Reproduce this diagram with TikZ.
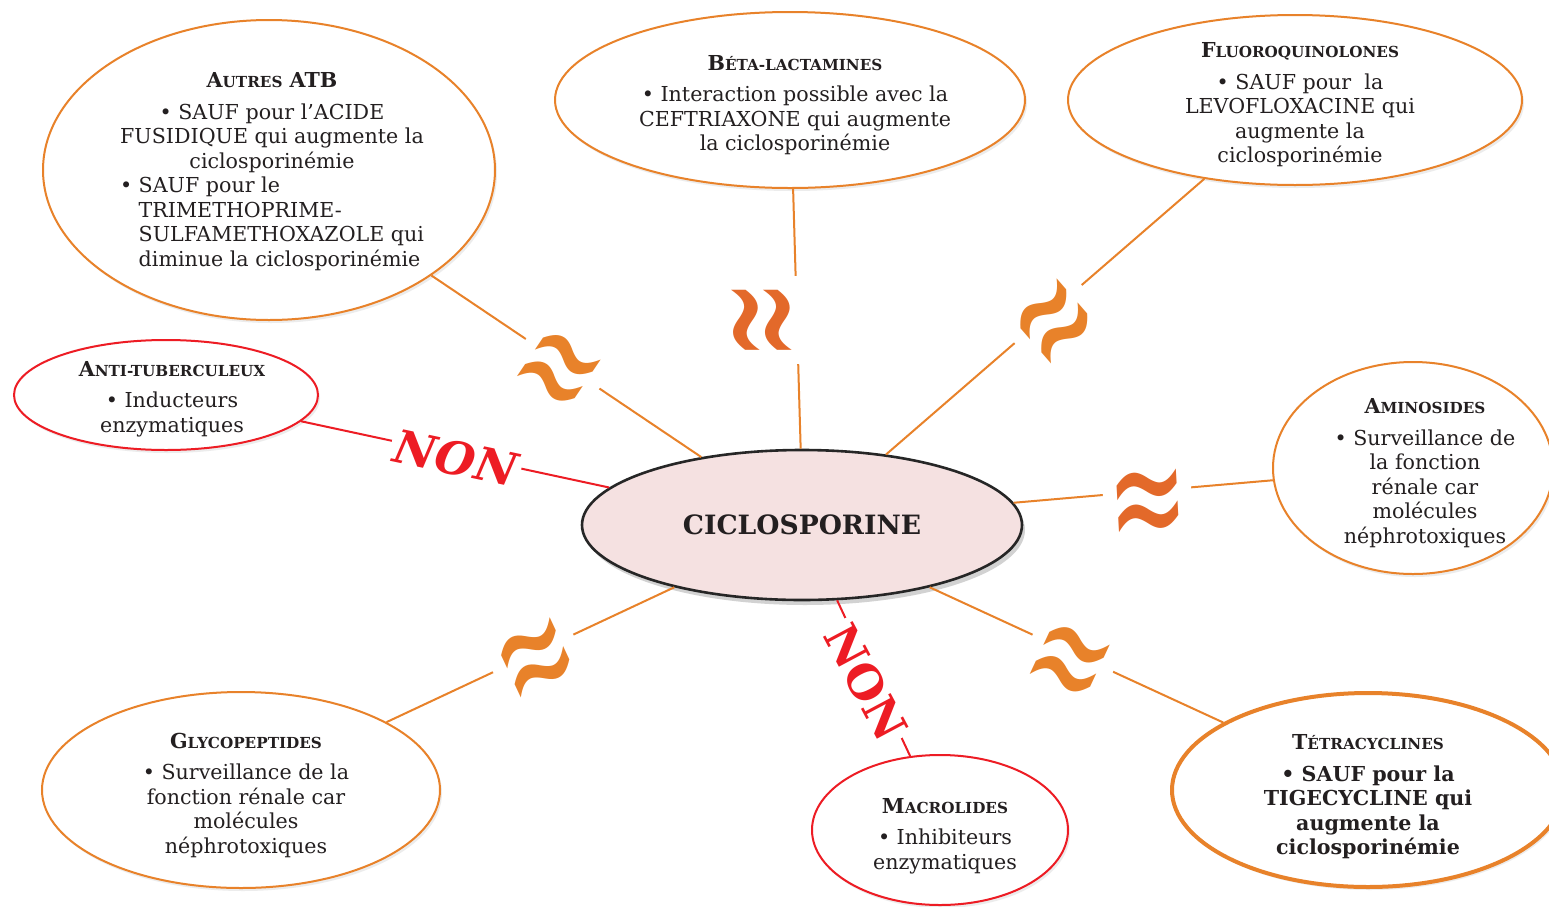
\documentclass[tikz,border=0pt]{standalone}
\usepackage{fontspec}
\setmainfont{DejaVu Serif}
\newfontfamily\symfont{DejaVu Sans}
\usetikzlibrary{shapes.geometric,shadows}
\definecolor{orgline}{HTML}{E8822A}
\definecolor{orgdark}{HTML}{E3692A}
\definecolor{redline}{HTML}{ED1C24}
\definecolor{pinkfill}{HTML}{F5E1E1}
\definecolor{txt}{HTML}{231F20}
\newcommand\smc[1]{{\fontsize{7.6}{9}\selectfont #1}}
\begin{document}
\begin{tikzpicture}[x=0.5pt,y=-0.5pt,
  bub/.style={ellipse, draw=orgline, line width=1pt, fill=white, inner sep=0pt,
    drop shadow={shadow xshift=1pt,shadow yshift=-1.5pt,opacity=0.15}},
  redbub/.style={bub, draw=redline},
  txtbox/.style={align=center, text=txt, font=\fontsize{10.3}{12.25}\selectfont, inner sep=0pt},
  link/.style={draw=orgline, line width=1pt},
  redlink/.style={draw=redline, line width=1pt},
  approx/.style={fill=white, text=orgline, font=\symfont\fontsize{48}{48}\selectfont, inner sep=2pt, yscale=1.75},
  non/.style={fill=white, text=redline, font=\bfseries\fontsize{23}{23}\selectfont, inner sep=2pt}
]
\useasboundingbox (0,0) rectangle (1549,906);
\fill[white] (0,0) rectangle (1549,906);

% bubbles
\node[bub, minimum width=226pt, minimum height=150pt] (atb) at (269,170) {};
\node[bub, minimum width=235pt, minimum height=88pt] (beta) at (790,100) {};
\node[bub, minimum width=227pt, minimum height=85pt] (fluo) at (1295,100) {};
\node[redbub, minimum width=152pt, minimum height=55pt] (anti) at (166,395) {};
\node[bub, minimum width=140pt, minimum height=106pt] (amino) at (1413,468) {};
\node[bub, minimum width=199pt, minimum height=98pt] (glyco) at (241,790) {};
\node[redbub, minimum width=128pt, minimum height=75pt] (macro) at (940,830) {};
\node[bub, line width=2pt, minimum width=196pt, minimum height=97pt] (tetra) at (1368,790) {};
\node[ellipse, draw=black!85, line width=1.3pt, fill=pinkfill, inner sep=0pt,
  minimum width=220pt, minimum height=75pt,
  drop shadow={shadow xshift=1.5pt,shadow yshift=-2.5pt,opacity=0.35}] (cic) at (802,525) {};

% connectors
\draw[link] (atb.-33) -- (cic.146);
\draw[link] (beta.-88) -- (cic.91);
\draw[link] (fluo.-139) -- (cic.40);
\draw[redlink] (anti.-11) -- (cic.169);
\draw[link] (amino.185) -- (cic.6);
\draw[link] (glyco.25) -- (cic.206);
\draw[redlink] (macro.112) -- (cic.-65);
\draw[link] (tetra.155) -- (cic.-26);

% symbols on connectors
\node[rotate=-34, approx] (s1) at (553,378) {≈};
\node[rotate=90, approx, text=orgdark] (s2) at (773,320) {≈};
\node[rotate=41, approx] (s3) at (1062,330) {≈};
\node[rotate=3, approx, text=orgdark] (s4) at (1148,512) {≈};
\node[rotate=25, approx] (s5) at (540,668) {≈};
\node[rotate=-25, approx] (s6) at (1065,670) {≈};
\node[non, font=\bfseries\itshape\fontsize{23}{23}\selectfont, rotate=-12] (non1) at (456,458) {NON};
\node[non, rotate=-62] (non2) at (866,682) {NON};

% texts
\node[txtbox] (atbt) at (272,173) {{\bfseries A\smc{UTRES} ATB}\\[3.5pt]
  \textbullet\ SAUF pour l'ACIDE\\
  FUSIDIQUE qui augmente la\\
  ciclosporinémie\\
  \begin{tabular}[t]{@{}l@{\ }l@{}}\textbullet & SAUF pour le\\
  & TRIMETHOPRIME-\\
  & SULFAMETHOXAZOLE qui\\
  & diminue la ciclosporinémie\end{tabular}};
\node[txtbox] (betat) at (795,105) {{\bfseries B\smc{ÉTA-LACTAMINES}}\\[3.5pt]
  \textbullet\ Interaction possible avec la\\
  CEFTRIAXONE qui augmente\\
  la ciclosporinémie};
\node[txtbox] (fluot) at (1300,105) {{\bfseries F\smc{LUOROQUINOLONES}}\\[3.5pt]
  \textbullet\ SAUF pour\ \ la\\
  LEVOFLOXACINE qui\\
  augmente la\\
  ciclosporinémie};
\node[txtbox] (antit) at (172,399) {{\bfseries A\smc{NTI-TUBERCULEUX}}\\[3.5pt]
  \textbullet\ Inducteurs\\
  enzymatiques};
\node[txtbox] (aminot) at (1425,473) {{\bfseries A\smc{MINOSIDES}}\\[3.5pt]
  \textbullet\ Surveillance de\\
  la fonction\\
  rénale car\\
  molécules\\
  néphrotoxiques};
\node[txtbox] (glycot) at (246,795) {{\bfseries G\smc{LYCOPEPTIDES}}\\[3.5pt]
  \textbullet\ Surveillance de la\\
  fonction rénale car\\
  molécules\\
  néphrotoxiques};
\node[txtbox] (macrot) at (945,836) {{\bfseries M\smc{ACROLIDES}}\\[3.5pt]
  \textbullet\ Inhibiteurs\\
  enzymatiques};
\node[txtbox, font=\bfseries\fontsize{10.3}{12.25}\selectfont] (tetrat) at (1368,797) {T\smc{ÉTRACYCLINES}\\[3.5pt]
  \textbullet\ SAUF pour la\\
  TIGECYCLINE qui\\
  augmente la\\
  ciclosporinémie};
\node[text=txt, font=\bfseries\fontsize{13.3}{15}\selectfont] (cict) at (cic) {CICLOSPORINE};
\end{tikzpicture}
\end{document}
